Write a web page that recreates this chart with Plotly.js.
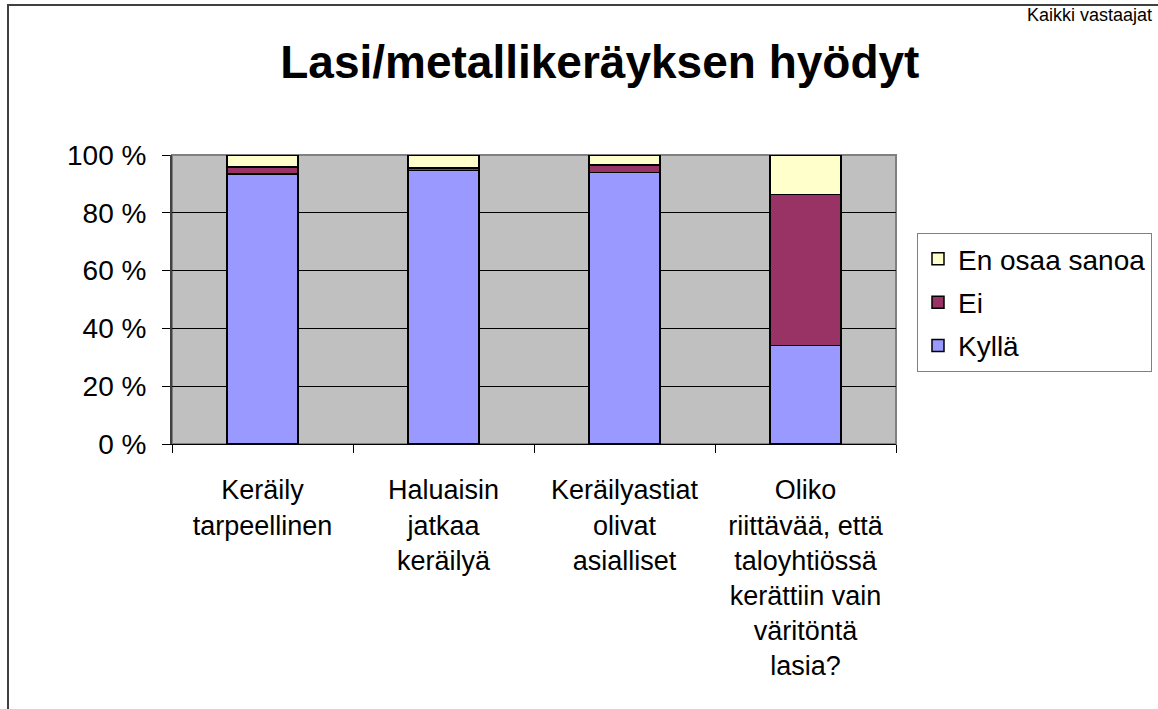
<!DOCTYPE html>
<html>
<head>
<meta charset="utf-8">
<script src="https://cdn.plot.ly/plotly-3.0.1.min.js"></script>
<style>
  html, body { margin: 0; padding: 0; background: #ffffff; }
  #wrap { position: relative; width: 1158px; height: 709px; }
  #chart { width: 1158px; height: 709px; }
  #frame { position: absolute; left: 7px; top: 4px; right: -10px; bottom: -10px;
           border-left: 2px solid #404040; border-top: 2px solid #404040; pointer-events: none; }
</style>
</head>
<body>
<div id="wrap">
  <div id="chart"></div>
  <div id="frame"></div>
</div>
<script>
const categories = [
  "Keräily<br>tarpeellinen",
  "Haluaisin<br>jatkaa<br>keräilyä",
  "Keräilyastiat<br>olivat<br>asialliset",
  "Oliko<br>riittävää, että<br>taloyhtiössä<br>kerättiin vain<br>väritöntä<br>lasia?"
];
const kyllaValues = [93.4, 94.6, 94.0, 34.0];
const eiValues = [2.4, 0.9, 2.6, 52.4];
const enOsaaValues = [4.2, 4.5, 3.4, 13.6];
const yTickValues = [0, 20, 40, 60, 80, 100];
const yTickLabels = ["0 %", "20 %", "40 %", "60 %", "80 %", "100 %"];

const font = "Liberation Sans, Arial, sans-serif";
const outline = { color: "#000000", width: 1.5 };

const traces = [
  { type: "bar", name: "Kyllä", legendgroup: "g1", legendrank: 3, x: categories, y: kyllaValues,
    marker: { color: "#9999FF", line: outline }, hoverinfo: "y+name" },
  { type: "bar", name: "Ei", legendgroup: "g2", legendrank: 2, x: categories, y: eiValues,
    marker: { color: "#993366", line: outline }, hoverinfo: "y+name" },
  { type: "bar", name: "En osaa sanoa", legendgroup: "g3", legendrank: 1, x: categories, y: enOsaaValues,
    marker: { color: "#FFFFCC", line: outline }, hoverinfo: "y+name" }
];

const layout = {
  width: 1158, height: 709,
  margin: { l: 172, r: 262, t: 155, b: 265, pad: 0, autoexpand: false },
  paper_bgcolor: "#ffffff",
  plot_bgcolor: "#C0C0C0",
  barmode: "stack",
  bargap: 0.61,
  font: { family: font, color: "#000000", size: 27 },
  title: {
    text: "<b>Lasi/metallikeräyksen hyödyt</b>",
    font: { family: font, size: 46, color: "#000000" },
    x: 0.518, xref: "container", xanchor: "center",
    y: 0.912, yref: "container", yanchor: "middle"
  },
  xaxis: {
    type: "category",
    showline: true, linecolor: "#000000", linewidth: 1,
    ticks: "outside", tickson: "boundaries", ticklen: 8, tickcolor: "#000000", tickwidth: 1,
    ticklabelstandoff: 22,
    tickfont: { family: font, size: 27, color: "#000000" },
    showgrid: false, zeroline: false, fixedrange: true
  },
  yaxis: {
    range: [0, 100],
    tickvals: yTickValues, ticktext: yTickLabels,
    showline: true, linecolor: "#404040", linewidth: 2,
    ticks: "outside", ticklen: 8, tickcolor: "#000000", tickwidth: 1,
    ticklabelstandoff: 10,
    tickfont: { family: font, size: 28, color: "#000000" },
    showgrid: true, gridcolor: "#000000", gridwidth: 1,
    zeroline: false, fixedrange: true
  },
  legend: {
    x: 1.029, xanchor: "left",
    y: 0.73, yanchor: "top",
    traceorder: "grouped",
    tracegroupgap: 4,
    bgcolor: "#ffffff", bordercolor: "#808080", borderwidth: 1,
    font: { family: font, size: 28, color: "#000000" }
  },
  shapes: [
    { type: "rect", xref: "paper", yref: "paper", x0: 0, x1: 1, y0: 0, y1: 1,
      line: { color: "#808080", width: 2 }, fillcolor: "rgba(0,0,0,0)", layer: "below" }
  ],
  annotations: [
    { text: "Kaikki vastaajat", xref: "paper", yref: "paper", x: 1.357, y: 1.485,
      xanchor: "right", yanchor: "middle", showarrow: false,
      font: { family: font, size: 18, color: "#000000" } }
  ],
  showlegend: true
};

Plotly.newPlot("chart", traces, layout, { displayModeBar: false, staticPlot: true });
</script>
</body>
</html>
